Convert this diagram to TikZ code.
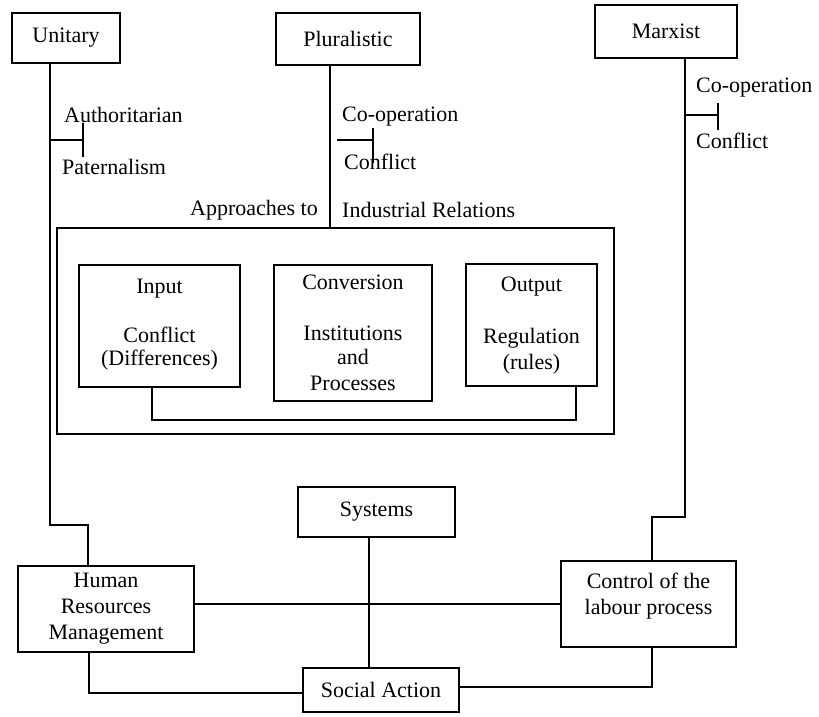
\documentclass[tikz,border=0pt]{standalone}
\usepackage{fontspec}
\setmainfont{Liberation Serif}
\begin{document}
\begin{tikzpicture}[x=1pt,y=-1pt,
  box/.style={draw,line width=2pt,inner sep=0pt,align=center,font=\fontsize{22}{26}\selectfont},
  txt/.style={inner sep=0pt,align=center,font=\fontsize{22}{26}\selectfont},
  conn/.style={line width=1.6pt}]
\useasboundingbox (0,0) rectangle (819,716);
% top boxes
\node[box,minimum width=108pt,minimum height=50pt] (unit) at (66,38) {Unitary};
\node[box,minimum width=144pt,minimum height=52pt] (plur) at (348,39) {Pluralistic};
\node[box,minimum width=142pt,minimum height=53pt] (marx) at (666,31) {Marxist};
% big box
\node[draw,line width=2.6pt,minimum width=557pt,minimum height=206pt,inner sep=0pt] (big) at (335.5,331) {};
\node[draw,line width=2pt,minimum width=161pt,minimum height=122pt,inner sep=0pt] (inp) at (159.5,326) {};
\node[draw,line width=2pt,minimum width=158pt,minimum height=136pt,inner sep=0pt] (conv) at (353,333) {};
\node[draw,line width=2pt,minimum width=131pt,minimum height=122pt,inner sep=0pt] (outp) at (531.5,325) {};
\node[txt] (t1) at (159.5,289) {Input};
\node[txt] (t2) at (159.5,335) {Conflict};
\node[txt] (t3) at (159.5,360) {(Differences)};
\node[txt] (t4) at (353,282) {Conversion};
\node[txt] (t5) at (353,333) {Institutions};
\node[txt] (t6) at (353,357) {and};
\node[txt] (t7) at (353,383) {Processes};
\node[txt] (t8) at (531.5,287) {Output};
\node[txt] (t9) at (531.5,338) {Regulation};
\node[txt] (t10) at (531.5,364) {(rules)};
% bottom boxes
\node[box,minimum width=157pt,minimum height=50pt] (sys) at (376.5,512) {Systems};
\node[box,minimum width=176pt,minimum height=86pt] (hrm) at (106,609) {Human\\Resources\\Management};
\node[box,minimum width=175pt,minimum height=86pt] (clp) at (648.5,604) {};
\node[txt] (clpt) at (648.5,596) {Control of the\\labour process};
\node[box,minimum width=156pt,minimum height=44pt] (sa) at (381,690) {Social Action};
% labels
\node[txt,anchor=west] (auth) at (64,115) {Authoritarian};
\node[txt,anchor=west] (pat) at (62,167) {Paternalism};
\node[txt,anchor=west] (coop) at (342,117) {Co-operation};
\node[txt,anchor=west] (conf) at (344,162) {Conflict};
\node[txt,anchor=east] (appr) at (318,210) {Approaches to};
\node[txt,anchor=west] (ind) at (342,210) {Industrial Relations};
\node[txt,anchor=west] (mcoop) at (696,88) {Co-operation};
\node[txt,anchor=west] (mconf) at (696,141) {Conflict};
% coordinates
\coordinate (u1) at (50,525);
\coordinate (u2) at (88,525);
\coordinate (ua) at (50,140);
\coordinate (ub) at (83,140);
\coordinate (ub1) at (83,123);
\coordinate (ub2) at (83,157);
\coordinate (p1) at (330,100);
\coordinate (pa) at (337,140);
\coordinate (pb) at (373,140);
\coordinate (pb1) at (373,128);
\coordinate (pb2) at (373,163);
\coordinate (m1) at (685,517);
\coordinate (m2) at (652,517);
\coordinate (ma) at (685,115);
\coordinate (mb) at (718,115);
\coordinate (mb1) at (718,103);
\coordinate (mb2) at (718,130);
\coordinate (f1) at (152,420);
\coordinate (f2) at (576,420);
\coordinate (s1) at (369,600);
\coordinate (h1) at (89,693);
\coordinate (c1) at (652,687);
% connectors
\draw[conn] (unit.south -| u1) -- (u1) -- (u2) -- (u2 |- hrm.north);
\draw[conn] (ua) -- (ub);
\draw[conn] (ub1) -- (ub2);
\draw[conn] (plur.south -| p1) -- (p1 |- big.north);
\draw[conn,line width=2.2pt] (pa) -- (pb);
\draw[conn] (pb1) -- (pb2);
\draw[conn] (marx.south -| m1) -- (m1) -- (m2) -- (m2 |- clp.north);
\draw[conn,line width=2.4pt] (ma) -- (mb);
\draw[conn] (mb1) -- (mb2);
\draw[conn] (inp.south -| f1) -- (f1) -- (f2) -- (f2 |- outp.south);
\draw[conn] (sys.south -| s1) -- (s1 |- sa.north);
\draw[conn] (hrm.east |- clp.west) -- (clp.west);
\draw[conn] (hrm.south -| h1) -- (h1) -- (h1 -| sa.west);
\draw[conn] (sa.east |- c1) -- (c1) -- (c1 |- clp.south);
\end{tikzpicture}
\end{document}
